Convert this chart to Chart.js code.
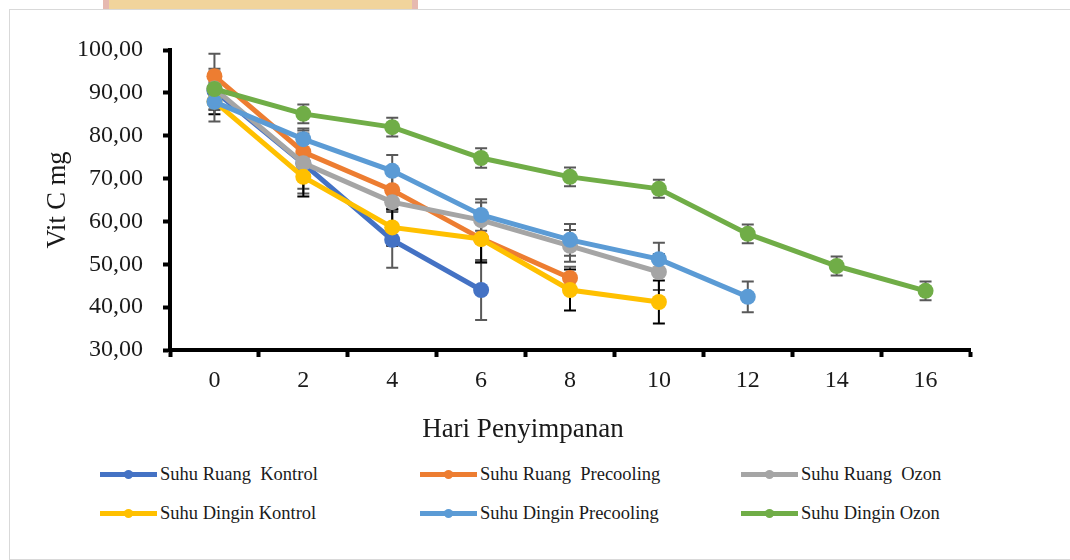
<!DOCTYPE html>
<html>
<head>
<meta charset="utf-8">
<script src="https://cdn.jsdelivr.net/npm/chart.js@4/dist/chart.umd.min.js"></script>
<style>
  body { margin: 0; background: #fff; font-family: "Liberation Serif", serif; }
  #wrap { position: relative; width: 1070px; height: 560px; overflow: hidden; }
  #mark { position: absolute; left: 103px; top: 0; width: 315px; height: 10px;
          background: linear-gradient(90deg, #e6b9b0 0 2%, #f1d49c 2% 98%, #e6b9b0 98%); }
  #frame { position: absolute; left: 9px; top: 9px; width: 1060px; height: 549px;
           border: 1px solid #d9d9d9; background: #fff; }
  canvas { position: absolute; left: 0; top: 0; }
  #xtitle { position: absolute; left: 323px; width: 400px; top: 413px; text-align: center;
            font-size: 27px; line-height: 30px; color: #1a1a1a; }
  #legend { position: absolute; left: 0; top: 0; }
  .item { position: absolute; display: flex; align-items: center; font-size: 18.5px;
          color: #1a1a1a; white-space: pre; }
  .swatch { position: relative; width: 57px; height: 5px; margin-right: 3px; }
  .swatch i { position: absolute; left: 24px; top: -2px; width: 9px; height: 9px; border-radius: 50%; }
</style>
</head>
<body>
<div id="wrap">
  <div id="mark"></div>
  <div id="frame"></div>
  <canvas id="chart" width="1070" height="450"></canvas>
  <div id="xtitle">Hari Penyimpanan</div>
  <div id="legend"></div>
</div>
<script>
const days = ['0', '2', '4', '6', '8', '10', '12', '14', '16'];
const seriesNames = ['Suhu Ruang  Kontrol', 'Suhu Ruang  Precooling', 'Suhu Ruang  Ozon',
  'Suhu Dingin Kontrol', 'Suhu Dingin Precooling', 'Suhu Dingin Ozon'];
const colors = ['#4472c4', '#ed7d31', '#a5a5a5', '#ffc000', '#5b9bd5', '#70ad47'];
const errColors = ['#595959', '#595959', '#595959', '#000000', '#595959', '#595959'];

const ruangKontrol = [90.5, 73.5, 55.7, 44.0];
const ruangPrecooling = [93.9, 76.2, 67.3, 56.0, 46.8];
const ruangOzon = [91.0, 73.6, 64.5, 60.3, 54.3, 48.2];
const dinginKontrol = [88.0, 70.4, 58.6, 55.9, 44.0, 41.2];
const dinginPrecooling = [87.9, 79.2, 71.8, 61.5, 55.7, 51.2, 42.4];
const dinginOzon = [90.9, 85.1, 82.0, 74.8, 70.4, 67.6, 57.1, 49.6, 43.8];

const errRuangKontrol = [4.5, 7.0, 6.5, 7.0];
const errRuangPrecooling = [5.2, 5.0, 4.5, 5.5, 2.6];
const errRuangOzon = [3.0, 6.0, 2.0, 4.1, 3.7, 4.2];
const errDinginKontrol = [3.0, 4.6, 4.3, 5.5, 4.8, 5.0];
const errDinginPrecooling = [4.6, 2.5, 3.7, 3.7, 3.7, 3.8, 3.6];
const errDinginOzon = [4.7, 2.2, 2.2, 2.3, 2.2, 2.1, 2.2, 2.2, 2.2];

const allValues = [ruangKontrol, ruangPrecooling, ruangOzon, dinginKontrol, dinginPrecooling, dinginOzon];
const allErrors = [errRuangKontrol, errRuangPrecooling, errRuangOzon, errDinginKontrol, errDinginPrecooling, errDinginOzon];

const serif = '"Liberation Serif", "Times New Roman", serif';

// vertical error bars with caps, drawn under the lines and markers
const errorBars = {
  id: 'errorBars',
  beforeDatasetsDraw(chart) {
    const ctx = chart.ctx;
    const y = chart.scales.y;
    chart.data.datasets.forEach((ds, i) => {
      const meta = chart.getDatasetMeta(i);
      ctx.save();
      ctx.strokeStyle = ds.errColor;
      ctx.lineWidth = 2;
      meta.data.forEach((pt, j) => {
        const e = ds.errors[j];
        const top = y.getPixelForValue(ds.data[j] + e);
        const bot = y.getPixelForValue(ds.data[j] - e);
        ctx.beginPath();
        ctx.moveTo(pt.x, top); ctx.lineTo(pt.x, bot);
        ctx.moveTo(pt.x - 6, top); ctx.lineTo(pt.x + 6, top);
        ctx.moveTo(pt.x - 6, bot); ctx.lineTo(pt.x + 6, bot);
        ctx.stroke();
      });
      ctx.restore();
    });
  }
};

const datasets = seriesNames.map((name, i) => ({
  label: name,
  data: allValues[i],
  errors: allErrors[i],
  errColor: errColors[i],
  borderColor: colors[i],
  backgroundColor: colors[i],
  borderWidth: 5,
  pointRadius: 8,
  pointHoverRadius: 8,
  pointBorderWidth: 0,
  tension: 0,
  order: seriesNames.length - i
}));

new Chart(document.getElementById('chart'), {
  type: 'line',
  data: { labels: days, datasets: datasets },
  options: {
    responsive: false,
    animation: false,
    layout: { padding: { left: 40, top: 50, right: 100, bottom: 0 } },
    plugins: { legend: { display: false }, tooltip: { enabled: false } },
    scales: {
      x: {
        offset: true,
        grid: { offset: true, drawOnChartArea: false, drawTicks: true, tickLength: 7, tickWidth: 4, tickColor: '#000' },
        border: { display: true, width: 4, color: '#000' },
        ticks: { color: '#1a1a1a', font: { family: serif, size: 24 }, padding: 9 },
        afterFit(scale) { scale.height = 100; }
      },
      y: {
        min: 30,
        max: 100,
        ticks: {
          stepSize: 10,
          color: '#1a1a1a',
          font: { family: serif, size: 24 },
          padding: 20,
          callback: v => v.toFixed(2).replace('.', ',')
        },
        grid: { drawOnChartArea: false, drawTicks: true, tickLength: 7, tickWidth: 4, tickColor: '#000' },
        border: { display: true, width: 4, color: '#000' },
        title: { display: true, text: 'Vit C mg', color: '#1a1a1a', font: { family: serif, size: 26.5 }, padding: { top: 2, bottom: 0 } },
        afterFit(scale) { scale.width = 130; }
      }
    }
  },
  plugins: [errorBars]
});

// html legend, 3 columns x 2 rows
const legend = document.getElementById('legend');
const colX = [100, 420, 741];
const rowY = [474, 513];
seriesNames.forEach((name, i) => {
  const item = document.createElement('div');
  item.className = 'item';
  item.style.left = colX[i % 3] + 'px';
  item.style.top = (rowY[Math.floor(i / 3)] - 11) + 'px';
  item.style.height = '22px';
  item.innerHTML = '<span class="swatch" style="background:' + colors[i] + '"><i style="background:' + colors[i] + '"></i></span>';
  item.appendChild(document.createTextNode(name));
  legend.appendChild(item);
});
</script>
</body>
</html>
